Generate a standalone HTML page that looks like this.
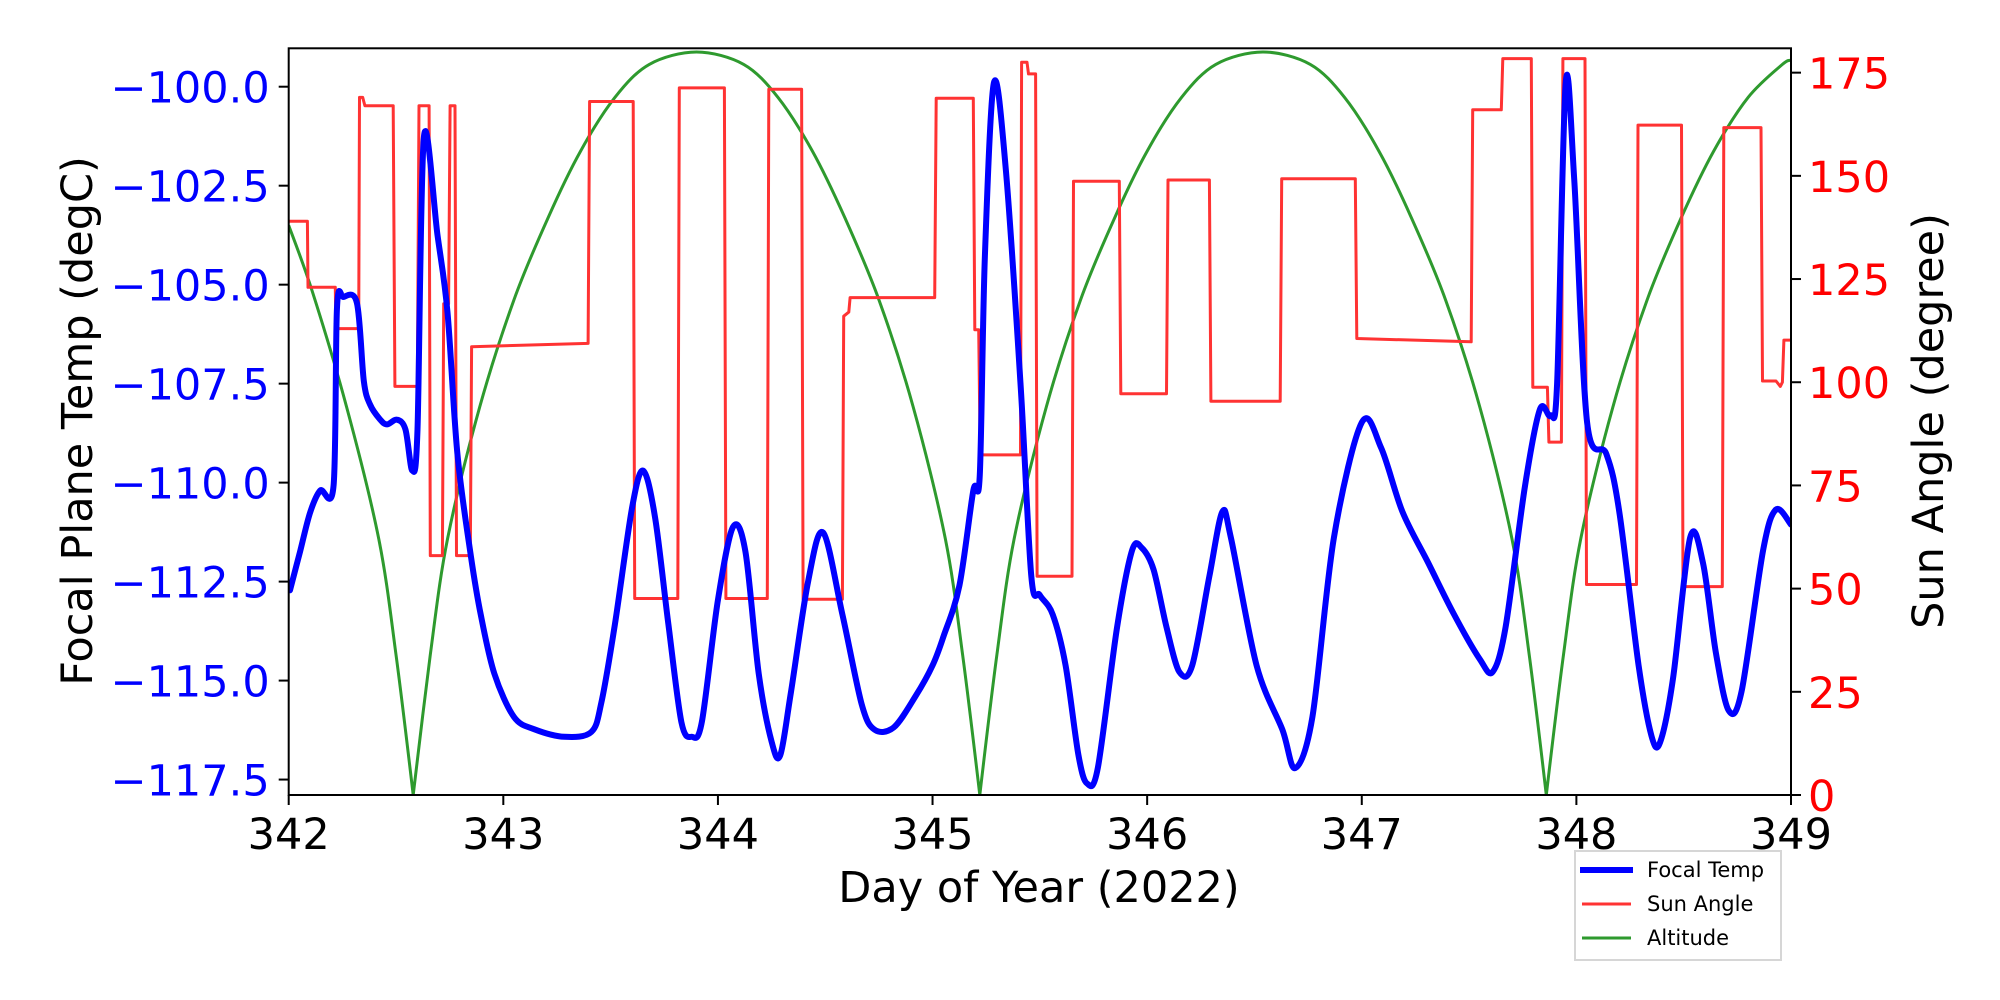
<!DOCTYPE html>
<html><head><meta charset="utf-8"><style>
html,body{margin:0;padding:0;background:#fff;}
svg{display:block;font-family:"DejaVu Sans","Liberation Sans",sans-serif;}
</style></head><body>
<svg id="chart" width="2000" height="1000" viewBox="0 0 2000 1000" xmlns="http://www.w3.org/2000/svg">
<rect x="0" y="0" width="2000" height="1000" fill="#fff"/>
<g id="plot"></g>
<g id="axes"></g>
<text x="1039" y="902" font-size="43" text-anchor="middle">Day of Year (2022)</text>
<text x="0" y="0" font-size="43" text-anchor="middle" transform="translate(92,421) rotate(-90)">Focal Plane Temp (degC)</text>
<text x="0" y="0" font-size="43" text-anchor="middle" transform="translate(1943,421) rotate(-90)">Sun Angle (degree)</text>
<g>
<rect x="1575" y="851" width="206" height="109" fill="#fff" stroke="#d6d6d6" stroke-width="2"/>
<line x1="1580" y1="870" x2="1633" y2="870" stroke="#0000ff" stroke-width="6"/>
<text x="1647" y="877" font-size="21">Focal Temp</text>
<line x1="1582" y1="904" x2="1631" y2="904" stroke="#ff3333" stroke-width="3"/>
<text x="1647" y="911" font-size="21">Sun Angle</text>
<line x1="1582" y1="938" x2="1631" y2="938" stroke="#2e9a2e" stroke-width="3"/>
<text x="1647" y="945" font-size="21">Altitude</text>
</g>
</svg>
<script>
const xTicks = [342,343,344,345,346,347,348,349];
const leftTicks = [-100,-102.5,-105,-107.5,-110,-112.5,-115,-117.5];
const leftTickLabels = ["\u2212100.0","\u2212102.5","\u2212105.0","\u2212107.5","\u2212110.0","\u2212112.5","\u2212115.0","\u2212117.5"];
const rightTicks = [0,25,50,75,100,125,150,175];

const tempDays = [342.006,342.053,342.10,342.147,342.209,342.225,342.256,342.318,342.35,342.38,342.427,342.458,342.505,342.544,342.576,342.6,342.63,342.693,342.74,342.786,342.849,342.895,342.958,343.05,343.145,343.285,343.41,343.457,343.52,343.6,343.652,343.707,343.769,343.83,343.878,343.925,344.0,344.07,344.128,344.19,344.25,344.29,344.34,344.42,344.49,344.58,344.67,344.73,344.82,344.92,345.0,345.05,345.125,345.19,345.22,345.244,345.286,345.34,345.41,345.46,345.5,345.56,345.62,345.68,345.72,345.77,345.86,345.93,345.975,346.03,346.09,346.15,346.21,346.29,346.35,346.39,346.51,346.63,346.69,346.77,346.87,347.0,347.09,347.19,347.31,347.43,347.55,347.61,347.67,347.76,347.83,347.88,347.91,347.95,347.99,348.05,348.14,348.2,348.29,348.35,348.39,348.45,348.53,348.59,348.65,348.71,348.77,348.87,348.93,349.0];
const tempVals = [-112.72,-111.74,-110.75,-110.2,-110.07,-105.58,-105.31,-105.46,-107.43,-108.04,-108.41,-108.53,-108.41,-108.66,-109.7,-108.66,-101.27,-103.73,-105.7,-109.27,-111.86,-113.34,-114.82,-115.92,-116.23,-116.42,-116.3,-115.55,-113.58,-110.63,-109.7,-110.87,-113.58,-116.05,-116.42,-116.05,-112.97,-111.12,-111.74,-114.82,-116.54,-116.89,-115.3,-112.5,-111.26,-113.33,-115.6,-116.24,-116.18,-115.4,-114.62,-113.9,-112.6,-110.2,-109.8,-104.27,-99.9,-102.0,-107.5,-112.36,-112.84,-113.33,-114.62,-116.89,-117.6,-117.21,-113.65,-111.71,-111.65,-112.2,-113.65,-114.78,-114.62,-112.36,-110.74,-111.39,-114.62,-116.24,-117.21,-115.92,-111.39,-108.48,-109.12,-110.74,-112.03,-113.33,-114.46,-114.78,-113.65,-110.1,-108.15,-108.31,-107.5,-99.9,-102.33,-108.48,-109.28,-110.74,-114.62,-116.4,-116.56,-114.95,-111.39,-112.03,-114.3,-115.76,-115.27,-111.71,-110.68,-111.06];

const sunDays = [342.0,342.087,342.09,342.217,342.22,342.326,342.33,342.345,342.355,342.487,342.495,342.599,342.607,342.654,342.66,342.716,342.722,342.745,342.752,342.775,342.782,342.80,342.806,342.846,342.852,343.395,343.402,343.605,343.612,343.813,343.82,344.03,344.037,344.23,344.237,344.39,344.397,344.58,344.586,344.61,344.616,345.01,345.017,345.19,345.197,345.215,345.222,345.41,345.415,345.44,345.447,345.48,345.487,345.65,345.657,345.87,345.877,346.09,346.097,346.29,346.297,346.62,346.627,346.97,346.977,347.51,347.517,347.65,347.657,347.79,347.797,347.865,347.872,347.93,347.937,348.04,348.047,348.28,348.287,348.49,348.497,348.68,348.687,348.86,348.867,348.93,348.95,348.96,348.967,349.0];
const sunVals = [139,139,123,123,113,113,169,169,167,167,99,99,167,167,58,58,119,119,167,167,58,58,58,58,108.6,109.4,168,168,47.6,47.6,171.3,171.3,47.6,47.6,171,171,47.4,47.4,116,117,120.5,120.5,168.8,168.8,112.7,112.7,82.4,82.4,177.5,177.5,174.7,174.7,53,53,148.7,148.7,97.2,97.2,149,149,95.4,95.4,149.3,149.3,110.6,109.8,166,166,178.4,178.4,98.8,98.8,85.5,85.5,178.4,178.4,51,51,162.3,162.3,50.5,50.5,161.7,161.7,100.3,100.3,99,100,110.2,110.2];

const altDays = [342.0,342.11,342.27,342.42,342.5,342.58,342.66,342.74,342.89,343.05,343.21,343.36,343.52,343.68,343.9,344.12,344.28,344.44,344.59,344.75,344.91,345.06,345.14,345.22,345.30,345.38,345.53,345.69,345.85,346.00,346.16,346.32,346.54,346.76,346.92,347.08,347.23,347.39,347.55,347.70,347.78,347.86,347.94,348.02,348.17,348.33,348.49,348.64,348.80,348.96,349.0];
const altVals = [138,122,94,62,34,0,34,62,94,120,140,156,169,177,180,177,169,156,140,120,94,62,34,0,34,62,94,120,140,156,169,177,180,177,169,156,140,120,94,62,34,0,34,62,94,120,140,156,169,177,178];

const L=288.7,R=1791,T=48.3,B=795;
const NS='http://www.w3.org/2000/svg';
function xS(d){return L+(d-342)/7*(R-L);}
function yL(v){return B-(v-(-117.89))/(-99.03-(-117.89))*(B-T);}
function yR(v){return B-v/180.9*(B-T);}
function mk(tag,attrs,parent){const e=document.createElementNS(NS,tag);for(const k in attrs)e.setAttribute(k,attrs[k]);parent.appendChild(e);return e;}
const plot=document.getElementById('plot');
const axes=document.getElementById('axes');
function pathFrom(xs,ys,yf){return xs.map((d,i)=>(i?'L':'M')+xS(d).toFixed(1)+','+yf(ys[i]).toFixed(1)).join(' ');}
function smoothPath(xs,ys,yf,cusps){
 const P=xs.map((d,i)=>[xS(d),yf(ys[i])]);
 let s='M'+P[0][0].toFixed(1)+','+P[0][1].toFixed(1);
 for(let i=0;i<P.length-1;i++){
  const p0=P[Math.max(0,i-1)],p1=P[i],p2=P[i+1],p3=P[Math.min(P.length-1,i+2)];
  const k=0.16;
  let c1=[p1[0]+(p2[0]-p0[0])*k,p1[1]+(p2[1]-p0[1])*k];
  let c2=[p2[0]-(p3[0]-p1[0])*k,p2[1]-(p3[1]-p1[1])*k];
  if(cusps&&cusps(i))c1=p1.slice();
  if(cusps&&cusps(i+1))c2=p2.slice();
  s+=' C'+c1[0].toFixed(1)+','+c1[1].toFixed(1)+' '+c2[0].toFixed(1)+','+c2[1].toFixed(1)+' '+p2[0].toFixed(1)+','+p2[1].toFixed(1);
 }
 return s;
}

const cp=mk('clipPath',{id:'clip'},plot);
mk('rect',{x:L,y:T,width:R-L,height:B-T},cp);
const g=mk('g',{'clip-path':'url(#clip)'},plot);



const pa=mk('path',{d:smoothPath(altDays,altVals,yR,i=>altVals[i]===0),fill:'none',stroke:'#2e9a2e','stroke-width':3,'stroke-linejoin':'round'},g);


const ps=mk('path',{d:pathFrom(sunDays,sunVals,yR),fill:'none',stroke:'#ff3333','stroke-width':3,'stroke-linejoin':'round'},g);


const pt=mk('path',{d:smoothPath(tempDays,tempVals,yL,null),fill:'none',stroke:'#0000ff','stroke-width':6,'stroke-linejoin':'round','stroke-linecap':'round'},g);



const frame=mk('rect',{x:L,y:T,width:R-L,height:B-T,fill:'none',stroke:'#000','stroke-width':2},axes);



xTicks.forEach(t=>{const x=xS(t);
 const tl=mk('line',{x1:x,y1:B,x2:x,y2:B+10,stroke:'#000','stroke-width':2},axes);
 
 
 const tx=mk('text',{x:x,y:B+54,'font-size':43,'text-anchor':'middle',fill:'#000'},axes);
 
 
 tx.textContent=String(t);});
leftTicks.forEach((t,i)=>{const y=yL(t);
 const tl=mk('line',{x1:L-10,y1:y,x2:L,y2:y,stroke:'#000','stroke-width':2},axes);
 
 
 const tx=mk('text',{x:L-19,y:y+16,'font-size':43,'text-anchor':'end',fill:'#0000ff'},axes);
 
 
 tx.textContent=leftTickLabels[i];});
rightTicks.forEach(t=>{const y=yR(t);
 const tl=mk('line',{x1:R,y1:y,x2:R+10,y2:y,stroke:'#000','stroke-width':2},axes);
 
 
 const tx=mk('text',{x:R+17,y:y+16,'font-size':43,'text-anchor':'start',fill:'#ff0000'},axes);
 
 
 tx.textContent=String(t);});
</script>
</body></html>
